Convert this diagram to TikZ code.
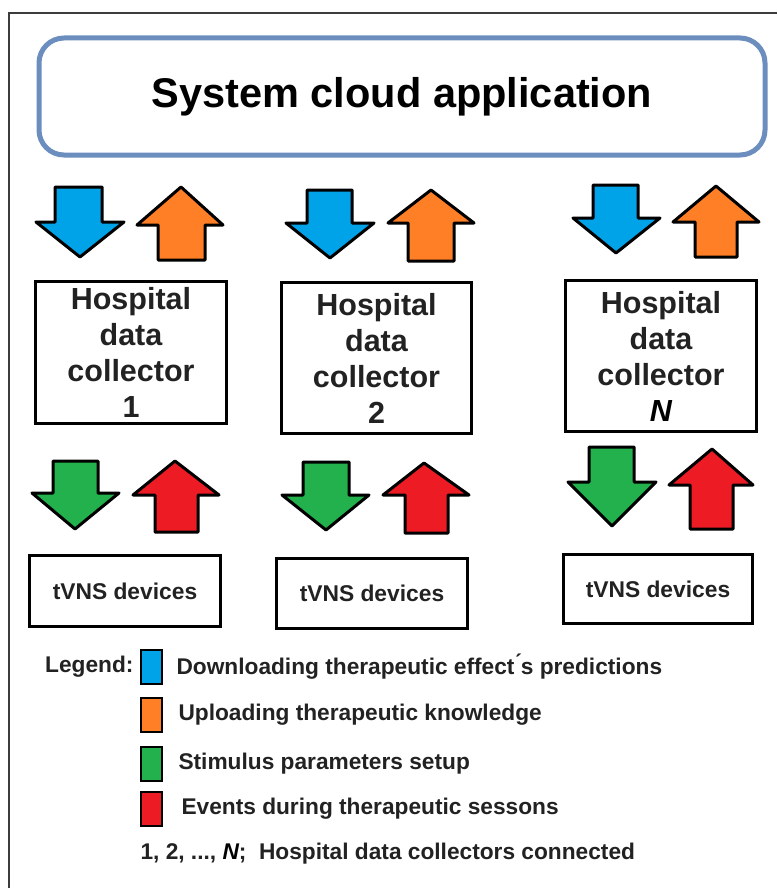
\documentclass[tikz,border=0pt]{standalone}
\usepackage{fontspec}
\setmainfont{Liberation Sans}
\usetikzlibrary{positioning}

\definecolor{cloudblue}{RGB}{108,142,191}
\definecolor{dlblue}{RGB}{0,162,232}
\definecolor{uporange}{RGB}{255,127,39}
\definecolor{setgreen}{RGB}{34,177,76}
\definecolor{evred}{RGB}{237,28,36}
\definecolor{txtgray}{RGB}{34,34,34}
\definecolor{framegray}{RGB}{60,60,60}

\tikzset{
  hdcbox/.style={draw, line width=3, align=center, text=txtgray, font=\fontsize{30.5}{36}\selectfont\bfseries},
  devbox/.style={draw, line width=3, text=txtgray, font=\fontsize{22.8}{27}\selectfont\bfseries},
  blockarr/.style={draw=black, line width=3, line join=round},
  legsq/.style={draw, line width=2, minimum width=21, minimum height=34, inner sep=0},
  legtxt/.style={font=\fontsize{22.7}{27}\selectfont\bfseries, text=txtgray}
}

\begin{document}
\begin{tikzpicture}[x=1pt, y=-1pt]
    \useasboundingbox (0,0) rectangle (777,888);
    \fill[white] (0,0) rectangle (777,888);
    \draw[framegray, line width=2] (9,888) -- (9,13) -- (777,13);
    %%% Cloud
    \node[draw=cloudblue, line width=5, rounded corners=25, minimum width=726, minimum height=117,
          font=\fontsize{41.5}{49}\selectfont\bfseries] (cloud) at (402,96.5) {System cloud application};
    %
    %%% Column 1
    \filldraw[blockarr, fill=dlblue] (55,187) -- (102,187) -- (102,222) -- (124,222) -- (80,257) -- (36,222) -- (55,222) -- cycle; % download
    \filldraw[blockarr, fill=uporange] (181,187) -- (223,225) -- (205,225) -- (205,260) -- (158,260) -- (158,225) -- (137,225) -- cycle; % upload
    \node[hdcbox, minimum width=191, minimum height=142] (hdc1) at (131,352.5) {Hospital\\data\\collector\\1};
    \filldraw[blockarr, fill=setgreen] (53,461) -- (98,461) -- (98,493) -- (119,493) -- (75,529) -- (32,493) -- (53,493) -- cycle; % setup
    \filldraw[blockarr, fill=evred] (175,461) -- (219,495) -- (198,495) -- (198,532) -- (155,532) -- (155,495) -- (133,495) -- cycle; % events
    \node[devbox, minimum width=191, minimum height=71] (dev1) at (125,591) {tVNS devices};
    %
    %%% Column 2
    \filldraw[blockarr, fill=dlblue] (307,190) -- (352,190) -- (352,223) -- (374,223) -- (330,258) -- (286,223) -- (307,223) -- cycle; % download
    \filldraw[blockarr, fill=uporange] (431,190) -- (474,223) -- (454,223) -- (454,261) -- (408,261) -- (408,223) -- (388,223) -- cycle; % upload
    \node[hdcbox, minimum width=190, minimum height=151] (hdc2) at (376.5,358) {Hospital\\data\\collector\\2};
    \filldraw[blockarr, fill=setgreen] (303,462) -- (349,462) -- (349,495) -- (369,495) -- (326,530) -- (282,495) -- (303,495) -- cycle; % setup
    \filldraw[blockarr, fill=evred] (424,463) -- (469,495) -- (448,495) -- (448,533) -- (405,533) -- (405,495) -- (383,495) -- cycle; % events
    \node[devbox, minimum width=191, minimum height=70] (dev2) at (372,593.5) {tVNS devices};
    %
    %%% Column N
    \filldraw[blockarr, fill=dlblue] (593,185) -- (638,185) -- (638,218) -- (660,218) -- (616,253) -- (573,218) -- (593,218) -- cycle; % download
    \filldraw[blockarr, fill=uporange] (716,186) -- (759,222) -- (737,222) -- (737,257) -- (695,257) -- (695,222) -- (673,222) -- cycle; % upload
    \node[hdcbox, minimum width=191, minimum height=151] (hdcN) at (661,356) {Hospital\\data\\collector\\{\color{black}\itshape N}};
    \filldraw[blockarr, fill=setgreen] (589,447) -- (634,447) -- (634,482) -- (656,482) -- (612,526) -- (568,482) -- (589,482) -- cycle; % setup
    \filldraw[blockarr, fill=evred] (712,449) -- (753,485) -- (733,485) -- (733,529) -- (690,529) -- (690,485) -- (669,485) -- cycle; % events
    \node[devbox, minimum width=189, minimum height=69] (devN) at (658,589) {tVNS devices};
    %
    %%% Legend
    \node[legsq, fill=dlblue] (lgblue) at (151.5,667) {};
    \node[legsq, fill=uporange] (lgorange) at (151.5,714.5) {};
    \node[legsq, fill=setgreen] (lggreen) at (151.5,763.5) {};
    \node[legsq, fill=evred] (lgred) at (151.5,808.5) {};
    \node[legtxt, left=3 of lgblue] (lglabel) {Legend:};
    \node[legtxt, right=10 of lgblue] (lgdown) {Downloading therapeutic effect\'{}s predictions};
    \node[legtxt, right=12 of lgorange] (lgup) {Uploading therapeutic knowledge};
    \node[legtxt, right=12 of lggreen] (lgset) {Stimulus parameters setup};
    \node[legtxt, right=15 of lgred] (lgev) {Events during therapeutic sessons};
    \node[legtxt, anchor=west] (lgnum) at (137,854) {1, 2, ..., {\color{black}\itshape N}; \ Hospital data collectors connected};
\end{tikzpicture}
\end{document}
